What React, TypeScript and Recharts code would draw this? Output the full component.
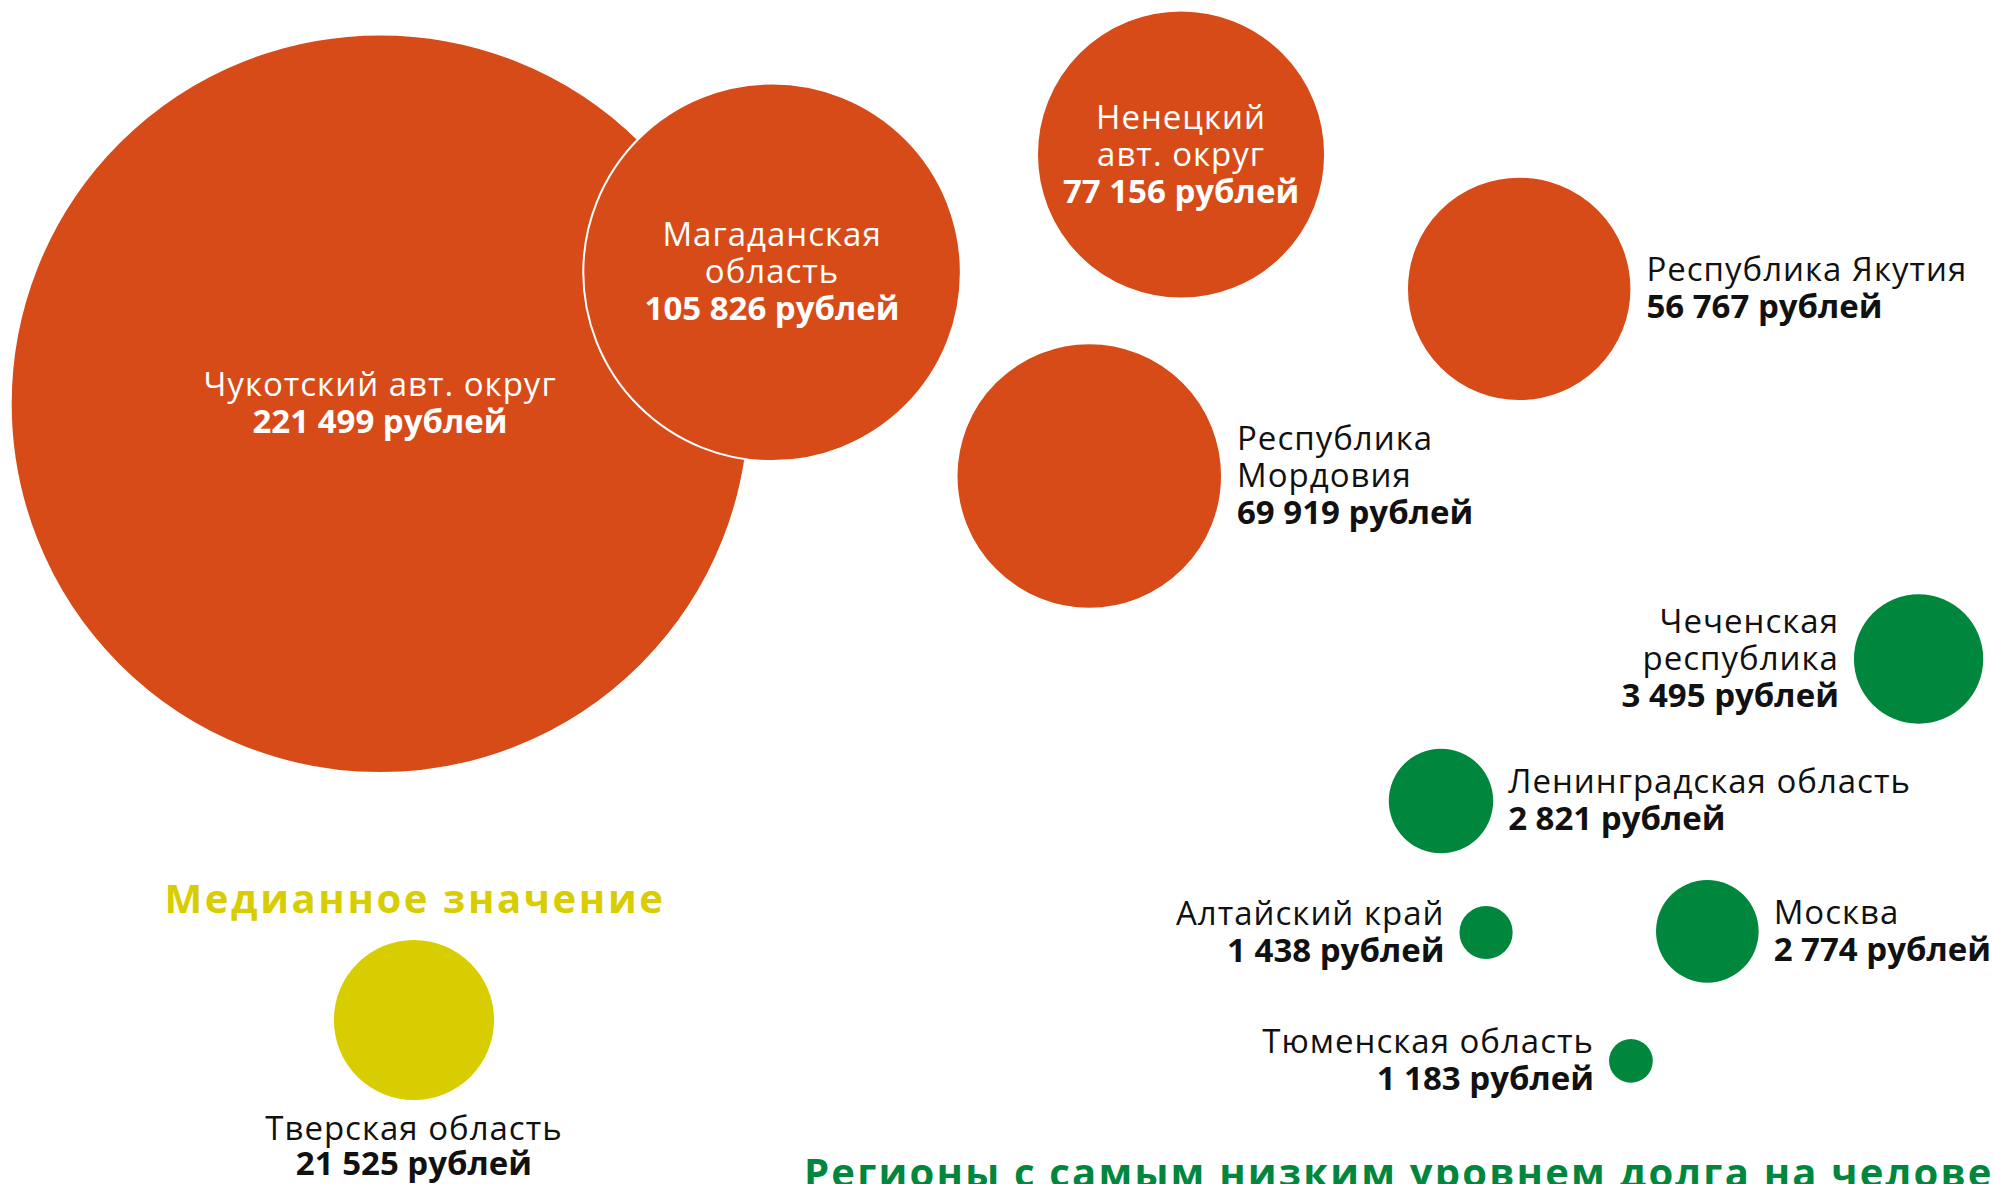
import { ScatterChart, Scatter, XAxis, YAxis } from 'recharts'

// Регионы с самым высоким долгом на человека
const highRegions = [
  'Чукотский авт. округ',
  'Магаданская\nобласть',
  'Ненецкий\nавт. округ',
  'Республика\nМордовия',
  'Республика Якутия',
]
const highDebt = [221499, 105826, 77156, 69919, 56767]
const highPosX = [19.05, 38.7, 59.2, 54.6, 76.15]
const highPosY = [34.1, 23.0, 13.05, 40.2, 24.4]

// Медианное значение
const medianRegions = ['Тверская область']
const medianDebt = [21525]
const medianPosX = [20.75]
const medianPosY = [86.15]

// Регионы с самым низким долгом на человека
const lowRegions = [
  'Чеченская\nреспублика',
  'Ленинградская область',
  'Москва',
  'Алтайский край',
  'Тюменская область',
]
const lowDebt = [3495, 2821, 2774, 1438, 1183]
const lowPosX = [96.17, 72.23, 85.58, 74.49, 81.75]
const lowPosY = [55.66, 67.65, 78.66, 78.76, 89.6]

const medianTitle = 'Медианное значение'
const lowTitle = 'Регионы с самым низким уровнем долга на человека'

const labelSide: Record<string, 'inside' | 'left' | 'right' | 'below'> = {
  'Чукотский авт. округ': 'inside',
  'Магаданская\nобласть': 'inside',
  'Ненецкий\nавт. округ': 'inside',
  'Республика\nМордовия': 'right',
  'Республика Якутия': 'right',
  'Тверская область': 'below',
  'Чеченская\nреспублика': 'left',
  'Ленинградская область': 'right',
  'Москва': 'right',
  'Алтайский край': 'left',
  'Тюменская область': 'left',
}

const RED = '#d74b18'
const GREEN = '#00873d'
const YELLOW = '#d8cd00'
const FONT = '"Open Sans", sans-serif'
const W = 1995
const H = 1184

const toRows = (names: string[], vals: number[], xs: number[], ys: number[]) =>
  names.map((name, i) => ({ name, value: vals[i], x: xs[i], y: ys[i] }))

const highData = toRows(highRegions, highDebt, highPosX, highPosY)
const medianData = toRows(medianRegions, medianDebt, medianPosX, medianPosY)
const lowData = toRows(lowRegions, lowDebt, lowPosX, lowPosY)

const fmt = (v: number) => String(v).replace(/\B(?=(\d{3})+(?!\d))/g, ' ')

// radius grows linearly with the debt, own scale per group
const radiusHigh = (v: number) => 23.6 + v * 0.001561
const radiusMedian = (v: number) => v * 0.00372
const radiusLow = (v: number) => v * 0.0185

function makeBubble(fill: string, radius: (v: number) => number, stroke?: string) {
  return (props: any) => {
    const { cx, cy, payload } = props
    const r = radius(payload.value)
    const side = labelSide[payload.name] ?? 'right'
    const lines = payload.name.split('\n')
    const all = [...lines, `${fmt(payload.value)} рублей`]
    const n = all.length
    const lh = 37
    let x = cx
    let anchor: 'start' | 'middle' | 'end' = 'middle'
    if (side === 'right') {
      x = cx + r + 15
      anchor = 'start'
    } else if (side === 'left') {
      x = cx - r - 15
      anchor = 'end'
    }
    const baseline = (i: number) =>
      side === 'below' ? cy + r + 40 + i * 35 : cy + (i - (n - 1) / 2) * lh + 11
    const color = side === 'inside' ? '#ffffff' : '#111111'
    return (
      <g>
        <circle cx={cx} cy={cy} r={r} fill={fill} stroke={stroke ?? 'none'} strokeWidth={stroke ? 2 : 0} />
        {all.map((t: string, i: number) => {
          const bold = i === n - 1
          return (
            <text
              key={i}
              x={x}
              y={baseline(i)}
              textAnchor={anchor}
              fill={color}
              fontFamily={FONT}
              fontSize={33}
              fontWeight={bold ? 700 : 400}
              letterSpacing={bold ? 0 : 1}
            >
              {t}
            </text>
          )
        })}
      </g>
    )
  }
}

export default function App() {
  return (
    <div style={{ position: 'absolute', left: 0, top: 0, width: W, height: H, background: '#fff', overflow: 'hidden' }}>
      <ScatterChart width={W} height={H} margin={{ top: 0, right: 0, bottom: 0, left: 0 }}>
        <XAxis type="number" dataKey="x" domain={[0, 100]} hide />
        <YAxis type="number" dataKey="y" domain={[0, 100]} reversed hide />
        <Scatter data={highData} shape={makeBubble(RED, radiusHigh, '#ffffff')} isAnimationActive={false} />
        <Scatter data={medianData} shape={makeBubble(YELLOW, radiusMedian)} isAnimationActive={false} />
        <Scatter data={lowData} shape={makeBubble(GREEN, radiusLow)} isAnimationActive={false} />
        <text x={415} y={913} textAnchor="middle" fill={YELLOW} fontFamily={FONT} fontSize={40} fontWeight={700} letterSpacing={2.6}>
          {medianTitle}
        </text>
        <text x={804} y={1187} textAnchor="start" fill={GREEN} fontFamily={FONT} fontSize={40} fontWeight={700} letterSpacing={2.2}>
          {lowTitle}
        </text>
      </ScatterChart>
    </div>
  )
}
